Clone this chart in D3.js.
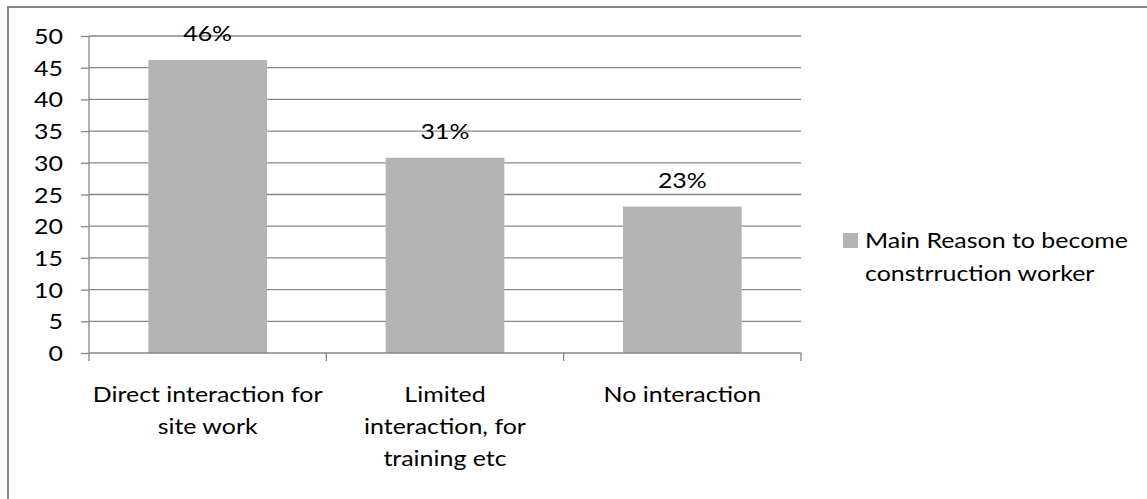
<!DOCTYPE html>
<html>
<head>
<meta charset="utf-8">
<script src="https://cdn.jsdelivr.net/npm/d3@7"></script>
<style>
  html, body { margin: 0; padding: 0; background: #fff; }
  svg { display: block; }
  text { font-family: Lato, "Open Sans", sans-serif; fill: #000; }
</style>
</head>
<body>
<svg id="chart" width="1147" height="499"></svg>
<script>
// Data
const categories = [
  ["Direct interaction for", "site work"],
  ["Limited", "interaction, for", "training etc"],
  ["No interaction"]
];
const values = [46.2, 30.8, 23.1];
const valueLabels = ["46%", "31%", "23%"];
const yTicks = [0, 5, 10, 15, 20, 25, 30, 35, 40, 45, 50];
const seriesName = ["Main Reason to become", "constrruction worker"];

(function () {
const svg = d3.select("#chart");
const W = 1147, H = 499;
const FS = 21.5;
const SX = 1.16;
const grid = "#878787";
const barColor = "#b3b3b3";

// horizontal stretch about the text anchor point
function stretch(sel) {
  sel.each(function () {
    const ax = +this.getAttribute("x") || 0;
    const ay = +this.getAttribute("y") || 0;
    this.setAttribute("transform", `translate(${ax},${ay}) scale(${SX},1) translate(${-ax},${-ay})`);
  });
}

// outer frame (cut off at right and bottom)
svg.append("rect")
  .attr("x", 8).attr("y", 7)
  .attr("width", W + 10).attr("height", H + 10)
  .attr("fill", "none").attr("stroke", "#868686").attr("stroke-width", 2);

const pL = 89, pR = 801, pT = 36, pB = 353;

const x = d3.scaleBand()
  .domain(d3.range(categories.length))
  .range([pL, pR])
  .paddingInner(0.5)
  .paddingOuter(0.25);

const y = d3.scaleLinear().domain([0, 50]).range([pB, pT]);

// gridlines
svg.append("g").selectAll("line").data(yTicks.filter(t => t > 0)).join("line")
  .attr("x1", pL).attr("x2", pR)
  .attr("y1", d => y(d)).attr("y2", d => y(d))
  .attr("stroke", grid).attr("stroke-width", 1.3);

// y-axis
const yAxis = d3.axisLeft(y).tickValues(yTicks).tickSize(8).tickFormat(d3.format("d"));
const gy = svg.append("g").attr("transform", `translate(${pL},0)`).call(yAxis);
gy.select(".domain").attr("stroke", grid).attr("stroke-width", 1.3).attr("d", `M0,${pT}V${pB}`);
gy.selectAll(".tick line").attr("stroke", grid).attr("stroke-width", 1.3);
gy.selectAll(".tick text").attr("font-size", FS).attr("font-family", "Lato, sans-serif").attr("fill", "#000")
  .attr("dy", null).attr("y", 7.5).attr("x", -26).call(stretch);

// bars
svg.append("g").selectAll("rect").data(values).join("rect")
  .attr("x", (d, i) => x(i))
  .attr("width", x.bandwidth())
  .attr("y", d => y(d))
  .attr("height", d => y(0) - y(d))
  .attr("fill", barColor);

// x-axis line and ticks at boundaries
const boundaries = d3.range(categories.length + 1).map(i => pL + i * (pR - pL) / categories.length);
svg.append("line").attr("x1", pL).attr("x2", pR).attr("y1", pB).attr("y2", pB)
  .attr("stroke", grid).attr("stroke-width", 1.3);
svg.append("g").selectAll("line").data(boundaries).join("line")
  .attr("x1", d => d).attr("x2", d => d)
  .attr("y1", pB).attr("y2", pB + 8)
  .attr("stroke", grid).attr("stroke-width", 1.3);

// category labels
const cl = svg.append("g").selectAll("text").data(categories).join("text")
  .attr("text-anchor", "middle")
  .attr("font-size", FS)
  .attr("x", (d, i) => x(i) + x.bandwidth() / 2)
  .attr("y", 402);
cl.selectAll("tspan").data(d => d).join("tspan")
  .attr("x", function() { return this.parentNode.getAttribute("x"); })
  .attr("dy", (d, j) => j === 0 ? 0 : 32)
  .text(d => d);
cl.call(stretch);

// value labels
svg.append("g").selectAll("text").data(values).join("text")
  .attr("text-anchor", "middle")
  .attr("font-size", FS)
  .attr("x", (d, i) => x(i) + x.bandwidth() / 2)
  .attr("y", d => y(d) - 19)
  .text((d, i) => valueLabels[i])
  .call(stretch);

// legend
const lg = svg.append("g");
lg.append("rect").attr("x", 843).attr("y", 233).attr("width", 15).attr("height", 15).attr("fill", barColor);
const lt = lg.append("text").attr("x", 865).attr("y", 248).attr("font-size", FS);
lt.selectAll("tspan").data(seriesName).join("tspan")
  .attr("x", 865).attr("dy", (d, j) => j === 0 ? 0 : 33).text(d => d);
lt.call(stretch);
})();
</script>
</body>
</html>
